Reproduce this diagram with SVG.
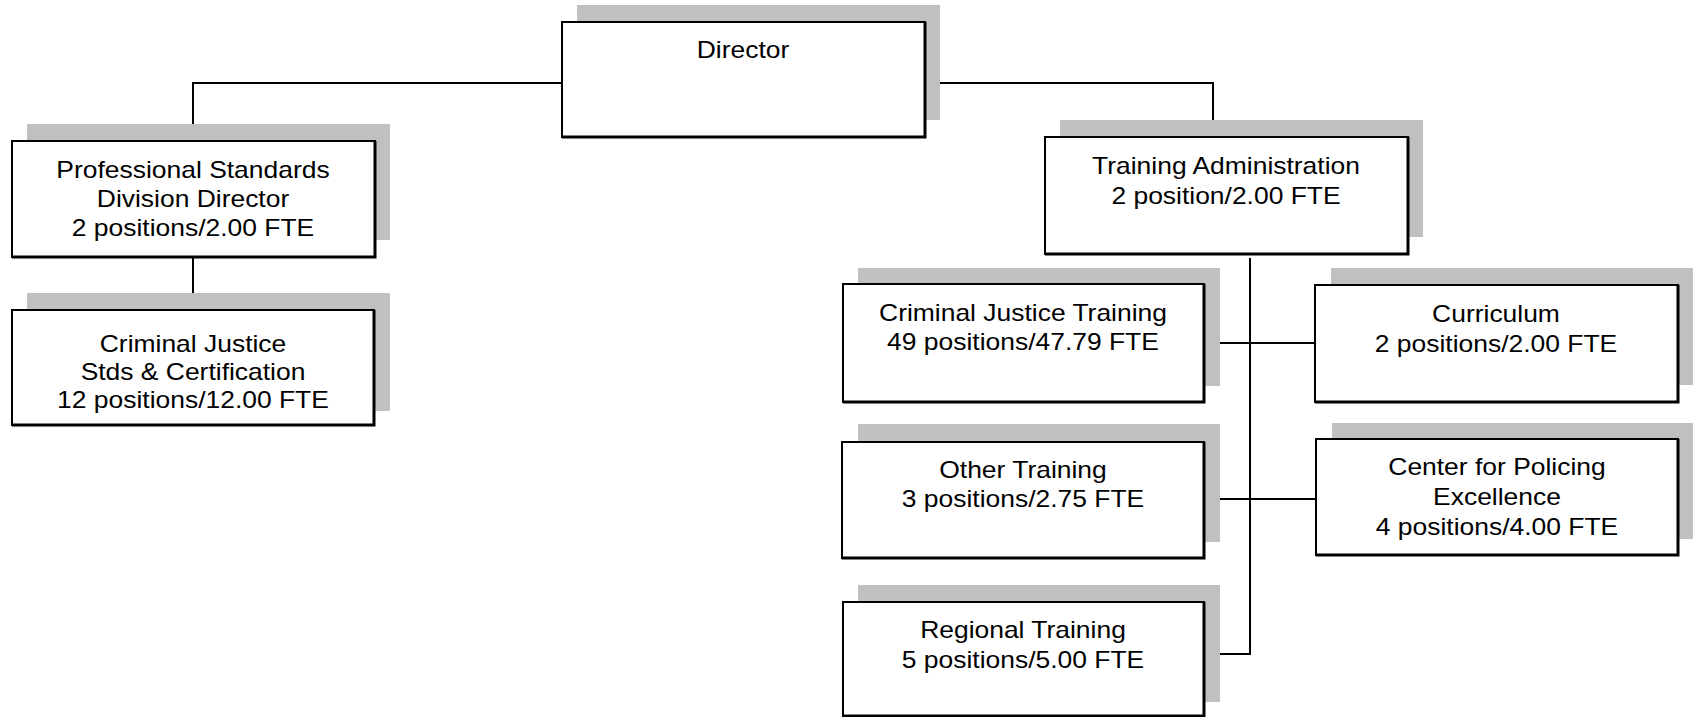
<svg xmlns="http://www.w3.org/2000/svg" width="1693" height="717" viewBox="0 0 1693 717">
<style>
.sh{fill:#c0c0c0;stroke:none}
.bx{fill:#fff;stroke:#000;stroke-width:2}
.br{fill:none;stroke:#000;stroke-width:3}
.t{font-family:"Liberation Sans",Arial,sans-serif;font-size:23px;fill:#000;text-anchor:middle}
.c{fill:none;stroke:#000;stroke-width:2}
</style>
<rect width="1693" height="717" fill="#fff"/>
<g id="connectors">
<path class="c" d="M562 83H193V141"/>
<path class="c" d="M193 257V310"/>
<path class="c" d="M925 83H1213V137"/>
<path class="c" d="M1250 258V654H1204"/>
<path class="c" d="M1204 343H1315"/>
<path class="c" d="M1204 499H1316"/>
</g>
<g id="director">
<rect class="sh" x="577" y="5" width="363" height="115"/>
<rect class="bx" x="562" y="22" width="363" height="115"/>
<path class="br" d="M925 22V137H562"/>
<text class="t" transform="translate(743,0) scale(1.15,1)" y="58">Director</text>
</g>
<g id="professional">
<rect class="sh" x="27" y="124" width="363" height="116"/>
<rect class="bx" x="12" y="141" width="363" height="116"/>
<path class="br" d="M375 141V257H12"/>
<text class="t" transform="translate(193,0) scale(1.15,1)"><tspan x="0" y="178">Professional Standards</tspan><tspan x="0" y="207">Division Director</tspan><tspan x="0" y="236">2 positions/2.00 FTE</tspan></text>
</g>
<g id="cjstds">
<rect class="sh" x="27" y="293" width="363" height="118"/>
<rect class="bx" x="12" y="310" width="362" height="115"/>
<path class="br" d="M374 310V425H12"/>
<text class="t" transform="translate(193,0) scale(1.15,1)"><tspan x="0" y="352">Criminal Justice</tspan><tspan x="0" y="380">Stds &amp; Certification</tspan><tspan x="0" y="408">12 positions/12.00 FTE</tspan></text>
</g>
<g id="training-admin">
<rect class="sh" x="1060" y="120" width="363" height="117"/>
<rect class="bx" x="1045" y="137" width="363" height="117"/>
<path class="br" d="M1408 137V254H1045"/>
<text class="t" transform="translate(1226,0) scale(1.15,1)"><tspan x="0" y="174">Training Administration</tspan><tspan x="0" y="204">2 position/2.00 FTE</tspan></text>
</g>
<g id="cj-training">
<rect class="sh" x="858" y="268" width="362" height="118"/>
<rect class="bx" x="843" y="284" width="361" height="118"/>
<path class="br" d="M1204 284V402H843"/>
<text class="t" transform="translate(1023,0) scale(1.15,1)"><tspan x="0" y="321">Criminal Justice Training</tspan><tspan x="0" y="350">49 positions/47.79 FTE</tspan></text>
</g>
<g id="curriculum">
<rect class="sh" x="1331" y="268" width="363" height="117"/>
<rect class="bx" x="1315" y="285" width="363" height="117"/>
<path class="br" d="M1678 285V402H1315"/>
<text class="t" transform="translate(1496,0) scale(1.15,1)"><tspan x="0" y="322">Curriculum</tspan><tspan x="0" y="352">2 positions/2.00 FTE</tspan></text>
</g>
<g id="other-training">
<rect class="sh" x="858" y="424" width="362" height="118"/>
<rect class="bx" x="842" y="442" width="362" height="116"/>
<path class="br" d="M1204 442V558H842"/>
<text class="t" transform="translate(1023,0) scale(1.15,1)"><tspan x="0" y="478">Other Training</tspan><tspan x="0" y="507">3 positions/2.75 FTE</tspan></text>
</g>
<g id="policing">
<rect class="sh" x="1332" y="423" width="362" height="116"/>
<rect class="bx" x="1316" y="439" width="362" height="116"/>
<path class="br" d="M1678 439V555H1316"/>
<text class="t" transform="translate(1497,0) scale(1.15,1)"><tspan x="0" y="475">Center for Policing</tspan><tspan x="0" y="505">Excellence</tspan><tspan x="0" y="535">4 positions/4.00 FTE</tspan></text>
</g>
<g id="regional">
<rect class="sh" x="858" y="585" width="362" height="117"/>
<rect class="bx" x="843" y="602" width="361" height="114"/>
<path class="br" d="M1204 602V716H843"/>
<text class="t" transform="translate(1023,0) scale(1.15,1)"><tspan x="0" y="638">Regional Training</tspan><tspan x="0" y="668">5 positions/5.00 FTE</tspan></text>
</g>
</svg>
